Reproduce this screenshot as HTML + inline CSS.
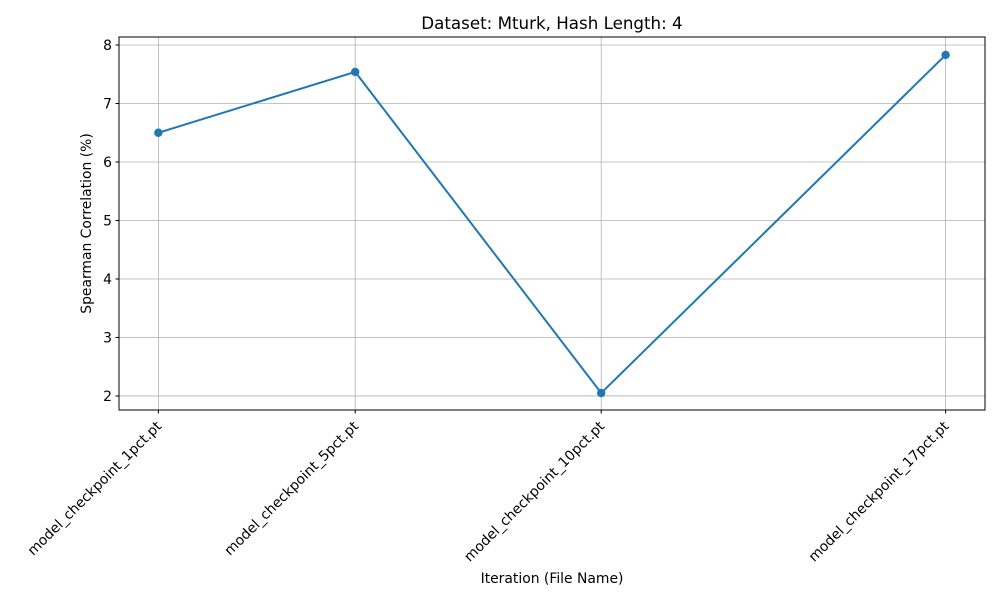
<!DOCTYPE html>
<html><head><meta charset="utf-8"><style>
body{margin:0;background:#fff;font-family:"Liberation Sans","DejaVu Sans",sans-serif;}
svg text{font-family:"DejaVu Sans","Liberation Sans",sans-serif;}
</style></head><body>
<svg id="chart" width="1000" height="600" xmlns="http://www.w3.org/2000/svg">
<rect width="1000" height="600" fill="#fff"/>
<g id="grid"></g>
<g id="series"></g>
<rect x="119" y="37" width="866" height="373" fill="none" stroke="#000" stroke-width="1"/>
<g id="axes"></g>
<text x="552" y="29" font-size="16.7" text-anchor="middle">Dataset: Mturk, Hash Length: 4</text>
<text x="552" y="583" font-size="13.9" text-anchor="middle">Iteration (File Name)</text>
<text transform="translate(91,223.5) rotate(-90)" font-size="13.9" text-anchor="middle">Spearman Correlation (%)</text>
</svg>
<script>
const categories=["model_checkpoint_1pct.pt","model_checkpoint_5pct.pt","model_checkpoint_10pct.pt","model_checkpoint_17pct.pt"];
const xValues=[1,5,10,17];
const yValues=[6.50,7.54,2.05,7.83];
const yTicks=[2,3,4,5,6,7,8];
const NS="http://www.w3.org/2000/svg";
const L=119,R=985,T=37,B=410;
const xMin=0.2,xMax=17.8,yMin=1.76,yMax=8.137;
const xs=v=>L+(v-xMin)/(xMax-xMin)*(R-L);
const ys=v=>B-(v-yMin)/(yMax-yMin)*(B-T);
function mk(tag,attrs,parent){const e=document.createElementNS(NS,tag);for(const k in attrs)e.setAttribute(k,attrs[k]);parent.appendChild(e);return e;}
const grid=document.getElementById('grid'),axes=document.getElementById('axes'),ser=document.getElementById('series');
yTicks.forEach(t=>{const y=ys(t);
 const g=mk('line',{x1:L,x2:R,y1:y,y2:y,stroke:'#b0b0b0','stroke-width':0.8},grid);
 
 
 mk('line',{x1:L-3.5,x2:L,y1:y,y2:y,stroke:'#000'},axes);
 const tx=mk('text',{x:L-7,y:y+5,'font-size':13.9,'text-anchor':'end'},axes);tx.textContent=t;
 
 
});
xValues.forEach((v,i)=>{const x=xs(v);
 const g=mk('line',{x1:x,x2:x,y1:T,y2:B,stroke:'#b0b0b0','stroke-width':0.8},grid);
 
 
 mk('line',{x1:x,x2:x,y1:B,y2:B+3.5,stroke:'#000'},axes);
 const tx=mk('text',{x:x+4,y:B+17,'font-size':13.9,'text-anchor':'end',transform:`rotate(-45 ${x+4} ${B+17})`},axes);tx.textContent=categories[i];
 
 
});
const pts=xValues.map((v,i)=>xs(v)+','+ys(yValues[i])).join(' ');
const pl=mk('polyline',{points:pts,fill:'none',stroke:'#1f77b4','stroke-width':2},ser);


xValues.forEach((v,i)=>{const c=mk('circle',{cx:xs(v),cy:ys(yValues[i]),r:4.2,fill:'#1f77b4'},ser);
 
 
});
</script>
</body></html>
